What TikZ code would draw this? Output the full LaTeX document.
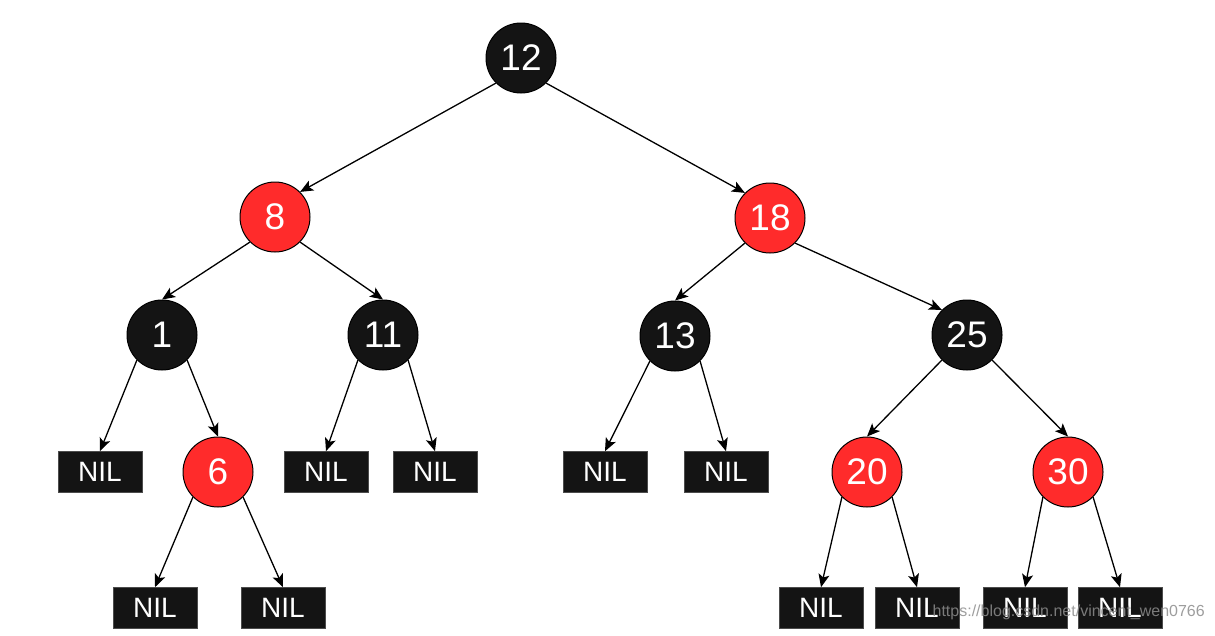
\documentclass[tikz,border=0pt]{standalone}
\usepackage{fontspec}
\setmainfont{Liberation Sans}
\usetikzlibrary{arrows.meta}
\definecolor{rbred}{RGB}{255,43,43}
\definecolor{rbblack}{RGB}{20,20,20}
\tikzset{
  rbnode/.style={circle, draw=black, line width=1pt, minimum size=70pt, inner sep=0pt, text=white, font=\fontsize{37}{37}\selectfont},
  redn/.style={rbnode, fill=rbred},
  blkn/.style={rbnode, fill=rbblack},
  nilbox/.style={rectangle, fill=rbblack, draw=black!70, line width=0.6pt, minimum width=84pt, minimum height=41pt, inner sep=0pt, text=white, font=\fontsize{28}{28}\selectfont},
  edge/.style={line width=1.3pt, -{Stealth[length=13pt,width=11pt,inset=3pt]}}
}
\begin{document}
\begin{tikzpicture}[x=1pt,y=-1pt]
\useasboundingbox (0,0) rectangle (1215,635);
\node[blkn] (n12) at (521,58) {12};
\node[redn] (n8) at (275,217) {8};
\node[redn] (n18) at (770,218) {18};
\node[blkn] (n1) at (162,335) {1};
\node[blkn] (n11) at (383,335) {11};
\node[blkn] (n13) at (675,336) {13};
\node[blkn] (n25) at (967,335) {25};
\node[redn] (n6) at (218,472) {6};
\node[redn] (n20) at (867,472) {20};
\node[redn] (n30) at (1068,472) {30};
\node[nilbox] (a) at (100,472) {NIL};
\node[nilbox] (b) at (326,472) {NIL};
\node[nilbox] (c) at (435,472) {NIL};
\node[nilbox] (d) at (605,472) {NIL};
\node[nilbox] (e) at (726,472) {NIL};
\node[nilbox] (f) at (155,608) {NIL};
\node[nilbox] (g) at (283,608) {NIL};
\node[nilbox] (h) at (821,608) {NIL};
\node[nilbox] (i) at (917,608) {NIL};
\node[nilbox] (j) at (1025,608) {NIL};
\node[nilbox] (k) at (1120,608) {NIL};
\draw[edge] (n12.225) -- (n8.45);
\draw[edge] (n12.315) -- (n18.135);
\draw[edge] (n8.225) -- (n1.north);
\draw[edge] (n8.315) -- (n11.north);
\draw[edge] (n18.225) -- (n13.north);
\draw[edge] (n18.315) -- (n25.135);
\draw[edge] (n1.225) -- (a.north);
\draw[edge] (n1.315) -- (n6.north);
\draw[edge] (n11.225) -- (b.north);
\draw[edge] (n11.315) -- (c.north);
\draw[edge] (n13.225) -- (d.north);
\draw[edge] (n13.315) -- (e.north);
\draw[edge] (n25.225) -- (n20.north);
\draw[edge] (n25.315) -- (n30.north);
\draw[edge] (n6.225) -- (f.north);
\draw[edge] (n6.315) -- (g.north);
\draw[edge] (n20.225) -- (h.north);
\draw[edge] (n20.315) -- (i.north);
\draw[edge] (n30.225) -- (j.north);
\draw[edge] (n30.315) -- (k.north);
\node[anchor=east, inner sep=0pt, text=black!45, opacity=0.85, font=\fontsize{16}{16}\selectfont] (wm) at (1205,612) {https://blog.csdn.net/vincent\_wen0766};
\end{tikzpicture}
\end{document}
